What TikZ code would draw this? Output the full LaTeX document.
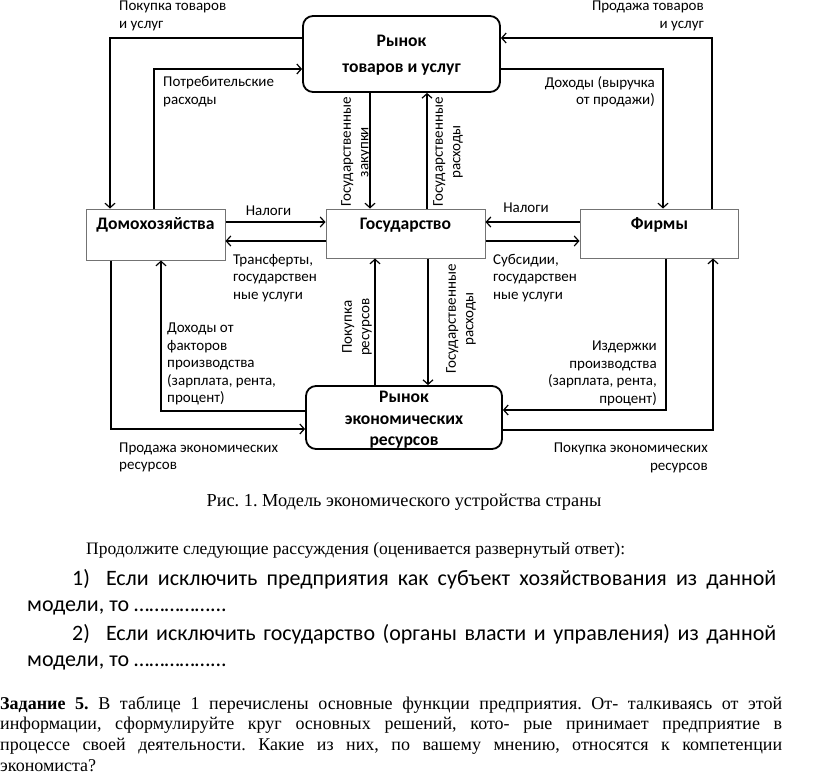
\documentclass[tikz,border=0pt]{standalone}
\usepackage{fontspec}
\setmainfont{Liberation Serif}
\newfontfamily\calfont{Carlito}
\usetikzlibrary{arrows.meta}
\begin{document}
\frenchspacing
\begin{tikzpicture}[x=1pt,y=-1pt,
  arr/.style={draw, line width=1.2pt, -{Straight Barb[length=4.5pt,width=10pt,line width=1.2pt]}},
  rbox/.style={draw, line width=1.8pt, rounded corners=10pt, inner sep=0pt},
  sbox/.style={draw=black!55, line width=1pt, inner sep=0pt},
  lbl/.style={font=\calfont\fontsize{15}{17.5}\selectfont, inner sep=0pt},
  btxt/.style={font=\calfont\bfseries\fontsize{17.6}{21.5}\selectfont, inner sep=0pt, align=center},
  tnr/.style={font=\fontsize{18}{20}\selectfont, inner sep=0pt, anchor=base west},
  cal/.style={font=\calfont\fontsize{22}{26}\selectfont, inner sep=0pt, anchor=base west}]
\useasboundingbox (0,0) rectangle (816,780);
\fill[white] (0,0) rectangle (816,780);
% boxes
\node[rbox, minimum width=197pt, minimum height=76pt] (mt) at (401.5,54) {};
\node[sbox, minimum width=139pt, minimum height=51pt] (hh) at (155.5,234.5) {};
\node[sbox, minimum width=159pt, minimum height=49pt] (gov) at (405.5,233.5) {};
\node[sbox, minimum width=158pt, minimum height=49pt] (fi) at (659,233.5) {};
\node[rbox, minimum width=196pt, minimum height=63pt] (mr) at (404,417.5) {};
% box texts
\node[btxt, font=\calfont\bfseries\fontsize{17.6}{26}\selectfont] (mtl) at (401.5,55) {Рынок\\товаров и услуг};
\node[btxt] (hhl) at (155.5,225) {Домохозяйства};
\node[btxt] (govl) at (405.5,225) {Государство};
\node[btxt] (fil) at (659.5,225) {Фирмы};
\node[btxt] (mrl) at (404,420) {Рынок\\экономических\\ресурсов};
% connectors
\draw[arr] ([yshift=16pt]mt.west) -| ([xshift=-45.5pt]hh.north);
\draw[arr] ([xshift=-1.5pt]hh.north) |- ([yshift=-15pt]mt.west);
\draw[arr] ([xshift=53pt]fi.north) |- ([yshift=16pt]mt.east);
\draw[arr] ([yshift=-15pt]mt.east) -| ([xshift=4pt]fi.north);
\draw[arr] ([xshift=-31.5pt]mt.south) -- ([xshift=-35.5pt]gov.north);
\draw[arr] ([xshift=21.5pt]gov.north) -- ([xshift=25.5pt]mt.south);
\draw[arr] ([yshift=12.5pt]hh.east) -- ([yshift=11.5pt]gov.west);
\draw[arr] ([yshift=-7.5pt]gov.west) -- ([yshift=-6.5pt]hh.east);
\draw[arr] ([yshift=11.5pt]fi.west) -- ([yshift=11.5pt]gov.east);
\draw[arr] ([yshift=-7.5pt]gov.east) -- ([yshift=-7.5pt]fi.west);
\draw[arr] ([xshift=-29pt]mr.north) -- ([xshift=-30.5pt]gov.south);
\draw[arr] ([xshift=22.5pt]gov.south) -- ([xshift=24pt]mr.north);
\draw[arr] ([yshift=6.5pt]mr.west) -| ([xshift=5.5pt]hh.south);
\draw[arr] ([xshift=-44.5pt]hh.south) |- ([yshift=-11.5pt]mr.west);
\draw[arr] ([xshift=7pt]fi.south) |- ([yshift=7.5pt]mr.east);
\draw[arr] ([yshift=-12.5pt]mr.east) -| ([xshift=54pt]fi.south);
% labels
\node[lbl, anchor=west, align=left] (l1) at (119,16) {Покупка товаров\\и услуг};
\node[lbl, anchor=west, align=left] (l2) at (163,91.5) {Потребительские\\расходы};
\node[lbl, anchor=east, align=right] (l3) at (704,16) {Продажа товаров\\и услуг};
\node[lbl, anchor=east, align=right] (l4) at (655,91.5) {Доходы (выручка\\от продажи)};
\node[lbl, rotate=90, align=center] (l5) at (356,152) {Государственные\\закупки};
\node[lbl, rotate=90, align=center] (l6) at (448,152) {Государственные\\расходы};
\node[lbl] (l7) at (268.5,211) {Налоги};
\node[lbl, anchor=west, align=left] (l8) at (233,278) {Трансферты,\\государствен\\ные услуги};
\node[lbl] (l9) at (526,208) {Налоги};
\node[lbl, anchor=west, align=left] (l10) at (493,278) {Субсидии,\\государствен\\ные услуги};
\node[lbl, rotate=90, align=center] (l11) at (357,327) {Покупка\\ресурсов};
\node[lbl, rotate=90, align=center] (l12) at (461,319) {Государственные\\расходы};
\node[lbl, anchor=west, align=left] (l13) at (167,364) {Доходы от\\факторов\\производства\\(зарплата, рента,\\процент)};
\node[lbl, anchor=west, align=left] (l14) at (119,457.5) {Продажа экономических\\ресурсов};
\node[lbl, anchor=east, align=right] (l15) at (657,373.5) {Издержки\\производства\\(зарплата, рента,\\процент)};
\node[lbl, anchor=east, align=right] (l16) at (708,458) {Покупка экономических\\ресурсов};
% text below
\node[inner sep=0pt, font=\fontsize{18.3}{20}\selectfont] (cap) at (404,502) {Рис. 1. Модель экономического устройства страны};
\node[tnr, font=\fontsize{17.5}{20}\selectfont] (p0) at (86,554) {Продолжите следующие рассуждения (оценивается развернутый ответ):};
\node[cal] (i1a) at (72,585) {\makebox[704pt][s]{1)\hspace{16pt}Если исключить предприятия как субъект хозяйствования из данной}};
\node[cal] (i1b) at (27,611) {модели, то ……………...};
\node[cal] (i2a) at (72,640) {\makebox[704pt][s]{2)\hspace{16pt}Если исключить государство (органы власти и управления) из данной}};
\node[cal] (i2b) at (27,666) {модели, то ……………...};
\node[tnr] (z1) at (0,709) {\makebox[782pt][s]{\textbf{Задание 5.} В таблице 1 перечислены основные функции предприятия. От- талкиваясь от этой}};
\node[tnr] (z2) at (0,729.5) {\makebox[782pt][s]{информации, сформулируйте круг основных решений, кото- рые принимает предприятие в}};
\node[tnr] (z3) at (0,750) {\makebox[782pt][s]{процессе своей деятельности. Какие из них, по вашему мнению, относятся к компетенции}};
\node[tnr] (z4) at (0,771) {экономиста?};
\end{tikzpicture}
\end{document}
